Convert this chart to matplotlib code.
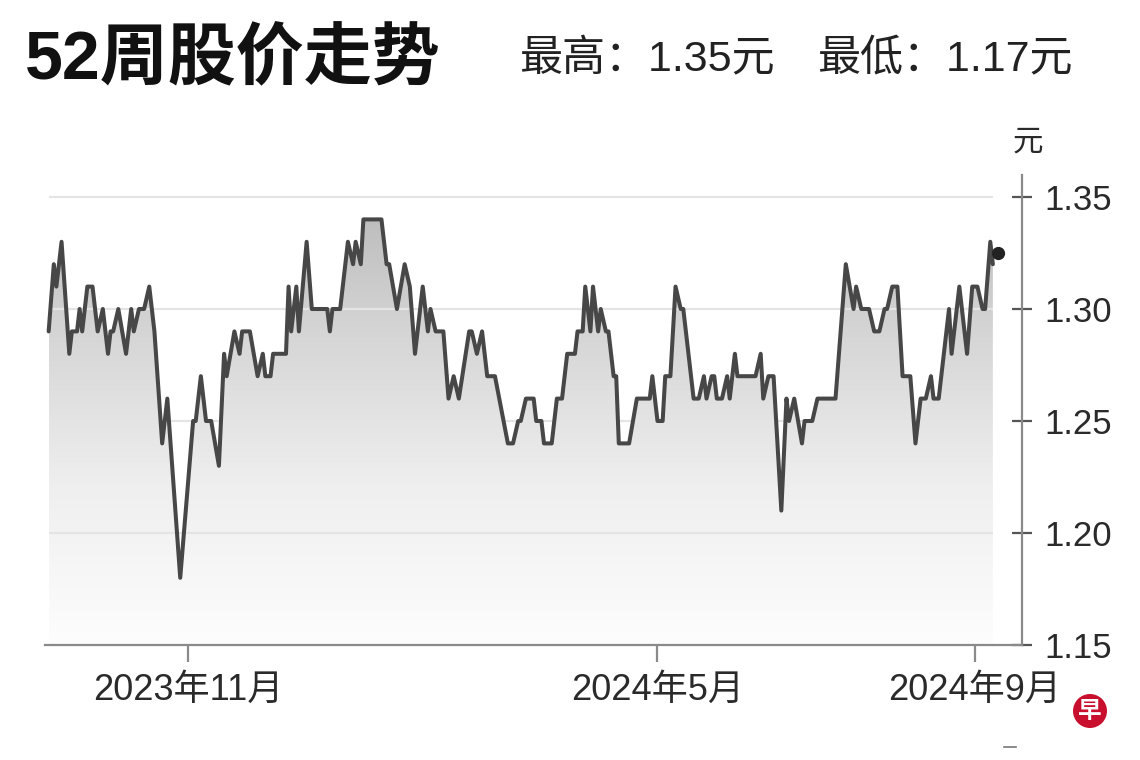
import matplotlib
matplotlib.use("Agg")
import matplotlib.pyplot as plt
import matplotlib.dates as mdates
from matplotlib.colors import LinearSegmentedColormap
from matplotlib.lines import Line2D
from matplotlib.patches import Ellipse
import numpy as np
import pandas as pd

plt.rcParams['font.family'] = ['Liberation Sans', 'Noto Sans CJK SC', 'DejaVu Sans']

# ---------------- data ----------------
title = "52周股价走势"
high_text = "最高：1.35元"
low_text = "最低：1.17元"
unit_label = "元"

dates = [
    "2023-09-08", "2023-09-10", "2023-09-11", "2023-09-13", "2023-09-16", "2023-09-17",
    "2023-09-19", "2023-09-20", "2023-09-21", "2023-09-23", "2023-09-25", "2023-09-27",
    "2023-09-29", "2023-10-01", "2023-10-02", "2023-10-03", "2023-10-05", "2023-10-08",
    "2023-10-10", "2023-10-11", "2023-10-13", "2023-10-15", "2023-10-17", "2023-10-18",
    "2023-10-19", "2023-10-22", "2023-10-24", "2023-10-29", "2023-11-03", "2023-11-04",
    "2023-11-06", "2023-11-08", "2023-11-10", "2023-11-13", "2023-11-15", "2023-11-16",
    "2023-11-19", "2023-11-21", "2023-11-22", "2023-11-25", "2023-11-28", "2023-11-30",
    "2023-12-01", "2023-12-03", "2023-12-04", "2023-12-09", "2023-12-10", "2023-12-11",
    "2023-12-13", "2023-12-14", "2023-12-17", "2023-12-19", "2023-12-25", "2023-12-26",
    "2023-12-27", "2023-12-30", "2024-01-02", "2024-01-04", "2024-01-05", "2024-01-07",
    "2024-01-08", "2024-01-15", "2024-01-17", "2024-01-18", "2024-01-21", "2024-01-24",
    "2024-01-26", "2024-01-28", "2024-01-31", "2024-02-02", "2024-02-03", "2024-02-05",
    "2024-02-08", "2024-02-10", "2024-02-12", "2024-02-14", "2024-02-18", "2024-02-19",
    "2024-02-21", "2024-02-23", "2024-02-25", "2024-02-28", "2024-03-04", "2024-03-06",
    "2024-03-08", "2024-03-09", "2024-03-11", "2024-03-14", "2024-03-15", "2024-03-17",
    "2024-03-18", "2024-03-21", "2024-03-23", "2024-03-25", "2024-03-27", "2024-03-30",
    "2024-03-31", "2024-04-02", "2024-04-03", "2024-04-05", "2024-04-06", "2024-04-08",
    "2024-04-09", "2024-04-11", "2024-04-12", "2024-04-14", "2024-04-15", "2024-04-16",
    "2024-04-20", "2024-04-23", "2024-04-28", "2024-04-29", "2024-05-01", "2024-05-03",
    "2024-05-04", "2024-05-06", "2024-05-08", "2024-05-10", "2024-05-11", "2024-05-15",
    "2024-05-17", "2024-05-19", "2024-05-20", "2024-05-22", "2024-05-23", "2024-05-24",
    "2024-05-26", "2024-05-28", "2024-05-29", "2024-05-31", "2024-06-01", "2024-06-08",
    "2024-06-10", "2024-06-11", "2024-06-13", "2024-06-15", "2024-06-18", "2024-06-20",
    "2024-06-21", "2024-06-23", "2024-06-26", "2024-06-27", "2024-06-30", "2024-07-02",
    "2024-07-09", "2024-07-13", "2024-07-16", "2024-07-17", "2024-07-19", "2024-07-22",
    "2024-07-24", "2024-07-26", "2024-07-28", "2024-07-29", "2024-07-31", "2024-08-02",
    "2024-08-04", "2024-08-07", "2024-08-09", "2024-08-11", "2024-08-13", "2024-08-15",
    "2024-08-16", "2024-08-18", "2024-08-20", "2024-08-22", "2024-08-23", "2024-08-26",
    "2024-08-29", "2024-08-31", "2024-09-02", "2024-09-04", "2024-09-05", "2024-09-07",
    "2024-09-08",
]
prices = [
    1.29, 1.32, 1.31, 1.33, 1.28, 1.29,
    1.29, 1.30, 1.29, 1.31, 1.31, 1.29,
    1.30, 1.28, 1.29, 1.29, 1.30, 1.28,
    1.30, 1.29, 1.30, 1.30, 1.31, 1.30,
    1.29, 1.24, 1.26, 1.18, 1.25, 1.25,
    1.27, 1.25, 1.25, 1.23, 1.28, 1.27,
    1.29, 1.28, 1.29, 1.29, 1.27, 1.28,
    1.27, 1.27, 1.28, 1.28, 1.31, 1.29,
    1.31, 1.29, 1.33, 1.30, 1.30, 1.29,
    1.30, 1.30, 1.33, 1.32, 1.33, 1.32,
    1.34, 1.34, 1.32, 1.32, 1.30, 1.32,
    1.31, 1.28, 1.31, 1.29, 1.30, 1.29,
    1.29, 1.26, 1.27, 1.26, 1.29, 1.29,
    1.28, 1.29, 1.27, 1.27, 1.24, 1.24,
    1.25, 1.25, 1.26, 1.26, 1.25, 1.25,
    1.24, 1.24, 1.26, 1.26, 1.28, 1.28,
    1.29, 1.29, 1.31, 1.29, 1.31, 1.29,
    1.30, 1.29, 1.29, 1.27, 1.27, 1.24,
    1.24, 1.26, 1.26, 1.27, 1.25, 1.25,
    1.27, 1.27, 1.31, 1.30, 1.30, 1.26,
    1.26, 1.27, 1.26, 1.27, 1.27, 1.26,
    1.26, 1.27, 1.26, 1.28, 1.27, 1.27,
    1.28, 1.26, 1.27, 1.27, 1.21, 1.26,
    1.25, 1.26, 1.24, 1.25, 1.25, 1.26,
    1.26, 1.32, 1.30, 1.31, 1.30, 1.30,
    1.29, 1.29, 1.30, 1.30, 1.31, 1.31,
    1.27, 1.27, 1.24, 1.26, 1.26, 1.27,
    1.26, 1.26, 1.28, 1.30, 1.28, 1.31,
    1.28, 1.31, 1.31, 1.30, 1.30, 1.33,
    1.32,
]
last_date = "2024-09-10"
last_price = 1.325

y_ticks = [1.15, 1.20, 1.25, 1.30, 1.35]
y_tick_labels = ["1.15", "1.20", "1.25", "1.30", "1.35"]
x_tick_dates = ["2023-11-01", "2024-05-01", "2024-09-01"]
x_tick_labels = ["2023年11月", "2024年5月", "2024年9月"]
x_range = ["2023-09-06 14:00", "2024-09-19 07:00"]
y_range = [1.15, 1.36]

# ---------------- figure ----------------
W, H = 1140, 760
fig = plt.figure(figsize=(W / 100, H / 100), dpi=100)
fig.patch.set_facecolor("white")

ax_left, ax_right, ax_bottom, ax_top = 45, 1022, 645, 174.6
ax = fig.add_axes([ax_left / W, 1 - ax_bottom / H,
                   (ax_right - ax_left) / W, (ax_bottom - ax_top) / H])
ax.set_facecolor("none")

x = mdates.date2num(pd.to_datetime(dates))
y = np.array(prices)
xl = mdates.date2num(pd.to_datetime(x_range))
ax.set_xlim(xl[0], xl[1])
ax.set_ylim(*y_range)

# gradient fill under the line
poly = ax.fill_between(x, y, y_range[0], color="none", lw=0)
cmap = LinearSegmentedColormap.from_list("g", ["#fdfdfd", "#efefef", "#d5d5d5", "#b5b5b5"])
grad = np.linspace(0, 1, 256).reshape(-1, 1)
im = ax.imshow(grad, extent=[x[0], x[-1], y_range[0], y_range[1]], origin="lower",
               aspect="auto", cmap=cmap, zorder=1)
im.set_clip_path(poly.get_paths()[0], transform=ax.transData)

# grid lines (drawn over the fill)
for yt in y_ticks[1:]:
    ax.plot([x[0], x[-1]], [yt, yt], color="#e4e4e4", lw=1.6, zorder=2,
            solid_capstyle="butt")

# price line
ax.plot(x, y, color="#474747", lw=2.9, zorder=3,
        solid_joinstyle="round", solid_capstyle="round")
ax.plot(mdates.date2num(pd.to_datetime([last_date])), [last_price], "o",
        color="#222222", ms=8.5, zorder=4)

# axes styling
for s in ["left", "top"]:
    ax.spines[s].set_visible(False)
for s in ["right", "bottom"]:
    ax.spines[s].set_color("#8a8a8a")
    ax.spines[s].set_linewidth(1.6)

ax.yaxis.tick_right()
ax.set_yticks(y_ticks)
ax.set_yticklabels(y_tick_labels)
ax.tick_params(axis="y", direction="inout", length=14, width=1.6, color="#555555",
               pad=9, labelsize=25, labelcolor="#2a2a2a")
ax.set_xticks(mdates.date2num(pd.to_datetime(x_tick_dates)))
ax.set_xticklabels(x_tick_labels)
ax.tick_params(axis="x", direction="out", length=12, width=1.6, color="#8a8a8a",
               pad=8, labelsize=26, labelcolor="#2a2a2a")
for lbl in ax.get_xticklabels():
    lbl.set_x(lbl.get_position()[0])

# texts
fig.text(25 / W, 1 - 61 / H, title, fontsize=49, fontweight="bold",
         color="#111111", va="center", ha="left")
fig.text(520 / W, 1 - 60 / H, high_text, fontsize=31, color="#222222",
         va="center", ha="left")
fig.text(818 / W, 1 - 60 / H, low_text, fontsize=31, color="#222222",
         va="center", ha="left")
fig.text(1028 / W, 1 - 143 / H, unit_label, fontsize=22, color="#2a2a2a",
         va="center", ha="center")

# logo and small dash
fig.add_artist(Ellipse((1090 / W, 1 - 711 / H), 34 / W, 34 / H,
                       transform=fig.transFigure, facecolor="#c8102e", edgecolor="none"))
fig.text(1090 / W, 1 - 712 / H, "早", fontsize=17, fontweight="bold", color="white",
         ha="center", va="center")
fig.add_artist(Line2D([1004 / W, 1016 / W], [1 - 747 / H, 1 - 747 / H],
                      transform=fig.transFigure, color="#777777", lw=1.2))

fig.savefig("out.png", dpi=100, facecolor="white")
